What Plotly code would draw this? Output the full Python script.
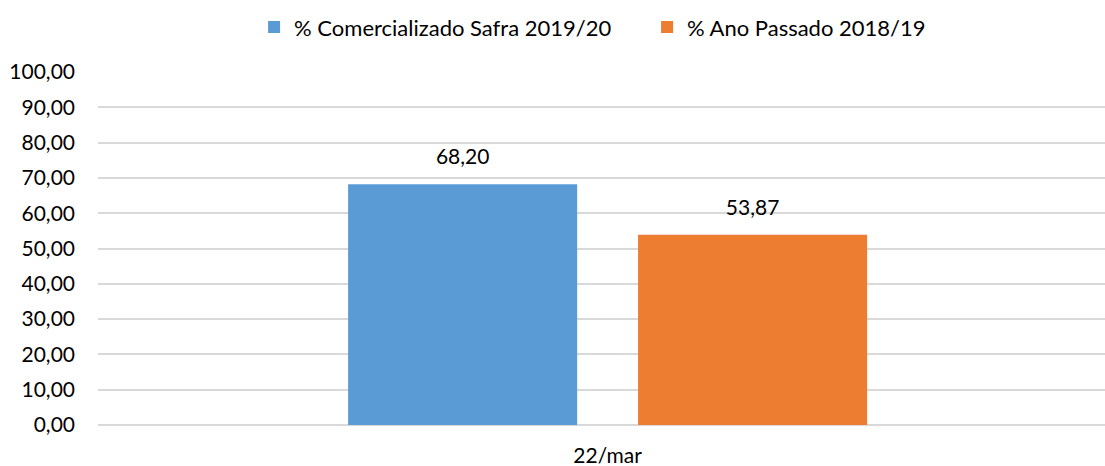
import plotly.graph_objects as go

categories = ["22/mar"]
series_names = ["% Comercializado Safra 2019/20", "% Ano Passado 2018/19"]
current_values = [68.20]
previous_values = [53.87]
y_ticks = list(range(0, 101, 10))

FONT = "Lato"
COLORS = ["#5B9BD5", "#ED7D31"]

fig = go.Figure()
for name, vals, color in zip(series_names, [current_values, previous_values], COLORS):
    fig.add_trace(go.Bar(
        x=categories,
        y=vals,
        name=name,
        marker_color=color,
        marker_line_width=0,
    ))

# value labels, grouped like the bars so they sit over each one
for name, vals in zip(series_names, [current_values, previous_values]):
    fig.add_trace(go.Scatter(
        x=categories,
        y=vals,
        mode="markers+text",
        marker=dict(size=22, color="rgba(0,0,0,0)"),
        text=[f"{v:.2f}".replace(".", ",") for v in vals],
        textposition="top center",
        textfont=dict(size=21, color="#000000", family=FONT),
        showlegend=False,
        hoverinfo="skip",
        cliponaxis=False,
    ))

fig.update_layout(
    width=1105,
    height=466,
    separators=",.",
    paper_bgcolor="white",
    plot_bgcolor="white",
    font=dict(family=FONT, size=21, color="#000000"),
    margin=dict(l=98, r=0, t=72, b=41),
    barmode="group",
    bargap=0.431,
    bargroupgap=0.21,
    scattermode="group",
    scattergap=0.431,
    showlegend=True,
    legend=dict(
        orientation="h",
        x=0.155,
        xanchor="left",
        y=1.127,
        yanchor="middle",
        entrywidth=348,
        font=dict(size=22, family=FONT),
    ),
    xaxis=dict(
        type="category",
        range=[-0.5, 0.488],
        showgrid=False,
        showline=False,
        zeroline=False,
        ticks="",
        ticklabelstandoff=16,
        automargin=False,
    ),
    yaxis=dict(
        range=[0, 100],
        tickvals=y_ticks,
        tickformat=".2f",
        showgrid=True,
        gridcolor="#d9d9d9",
        gridwidth=1.5,
        zeroline=True,
        zerolinecolor="#d9d9d9",
        zerolinewidth=1.5,
        showline=False,
        ticks="",
        ticklabelstandoff=22,
        automargin=False,
    ),
)

fig.write_html(
    "out.html",
    config={"displayModeBar": False},
    post_script="document.body.style.margin='0';",
)
